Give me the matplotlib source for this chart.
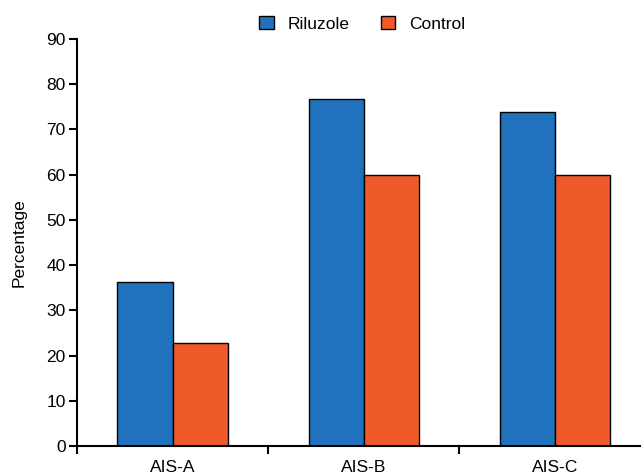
import matplotlib.pyplot as plt
import numpy as np

plt.rcParams['font.family'] = ['Liberation Sans Narrow', 'Liberation Sans', 'DejaVu Sans']

groups = ['AIS-A', 'AIS-B', 'AIS-C']
riluzole = [36.3, 76.8, 73.9]
control = [22.8, 60.0, 60.0]

blue = '#1f72bb'
orange = '#f05a2b'

fig = plt.figure(figsize=(6.41, 4.76), dpi=100)
ax = fig.add_axes([0.120, 0.063, 0.88, 0.855])

x = np.arange(len(groups))
w = 0.288
ax.bar(x - w / 2, riluzole, w, color=blue, edgecolor='black', linewidth=1, label='Riluzole')
ax.bar(x + w / 2, control, w, color=orange, edgecolor='black', linewidth=1, label='Control')

ax.set_xlim(-0.5, 2.45)
ax.set_ylim(0, 90)
ax.set_yticks(range(0, 91, 10))
ax.set_xticks(x)
ax.set_xticklabels(groups)
ax.set_xticks([-0.5, 0.5, 1.5], minor=True)
ax.tick_params(axis='x', which='major', length=0, pad=10, labelsize=12.5)
ax.tick_params(axis='x', which='minor', length=6, width=1.5)
ax.tick_params(axis='y', length=6, width=1.5, labelsize=12.5, pad=2)

for s in ['top', 'right']:
    ax.spines[s].set_visible(False)
ax.spines['left'].set_linewidth(1.5)
ax.spines['bottom'].set_linewidth(1.5)

ax.set_ylabel('Percentage', fontsize=12.5, labelpad=14)

fig.legend(loc='upper center', bbox_to_anchor=(0.565, 1.0), ncol=2, frameon=False,
           fontsize=12.5, handlelength=0.85, handleheight=0.85, handletextpad=0.8,
           columnspacing=1.8)

fig.savefig('out.png', dpi=100)
